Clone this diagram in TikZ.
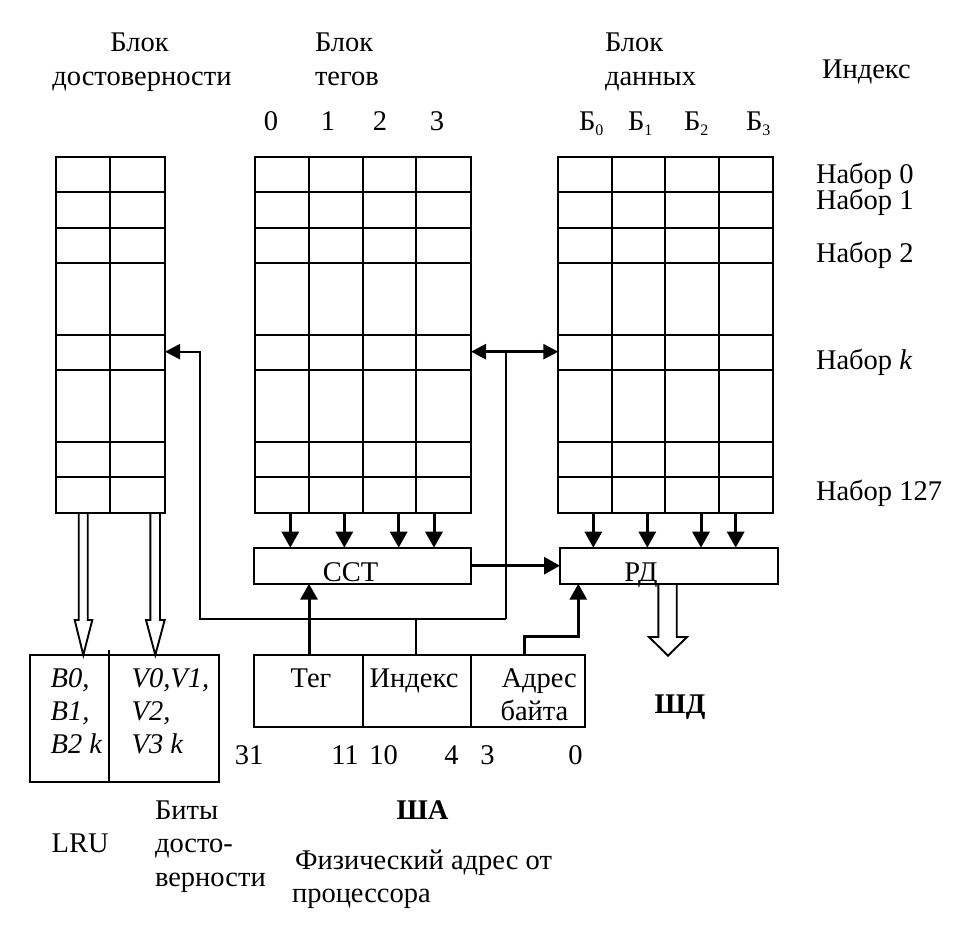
\documentclass[tikz,border=0pt]{standalone}
\usepackage{fontspec}
\setmainfont{Liberation Serif}
\usetikzlibrary{arrows.meta}
\begin{document}
\begin{tikzpicture}[x=1pt,y=-1pt,line width=2.2pt,
  every node/.style={inner sep=0pt, outer sep=0pt},
  font=\fontsize{28.5}{33}\selectfont,
  box/.style={draw, line width=2.2pt},
  arr/.style={line width=3pt, -{Triangle[length=16pt,width=17pt]}},
  arrthin/.style={line width=2.2pt, -{Triangle[length=15pt,width=15pt]}},
  arrboth/.style={line width=2.6pt, {Triangle[length=15pt,width=15pt]}-{Triangle[length=15pt,width=15pt]}},
  hollow/.style={line width=1.9pt, line join=miter},
  lbl/.style={anchor=base west},
  clbl/.style={anchor=base}]
\useasboundingbox (0,0) rectangle (969,928);

% ---------- blocks ----------
\node[box, minimum width=109.3pt, minimum height=356pt] (V) at (110.35,334.7) {};
\node[box, minimum width=216pt, minimum height=356pt] (T) at (363,334.7) {};
\node[box, minimum width=214.4pt, minimum height=356pt] (D) at (665.5,334.7) {};

\foreach \yy in {191.7,227.7,263,334.7,369.7,441.7,477} {
  \draw (V.west |- 0,\yy) -- (V.east |- 0,\yy);
  \draw (T.west |- 0,\yy) -- (T.east |- 0,\yy);
  \draw (D.west |- 0,\yy) -- (D.east |- 0,\yy);
}
\draw (109.7,0 |- V.north) -- (109.7,0 |- V.south);
\foreach \xx in {308.7,362.7,416} \draw (\xx,0 |- T.north) -- (\xx,0 |- T.south);
\foreach \xx in {612,665.3,718.7} \draw (\xx,0 |- D.north) -- (\xx,0 |- D.south);

% ---------- registers ----------
\node[box, minimum width=217pt, minimum height=36pt] (cct) at (362.5,565.7) {};
\node[box, minimum width=217.7pt, minimum height=36pt] (rd) at (668.85,565.7) {};
\node[clbl] (cctt) at (350.5,581) {ССТ};
\node[clbl] (rdt) at (641,581) {РД};

\node[box, minimum width=108.7pt, minimum height=71.7pt] (tagf) at (308.35,690.85) {};
\node[box, minimum width=108.3pt, minimum height=71.7pt] (idxf) at (416.85,690.85) {};
\node[box, minimum width=114pt, minimum height=71.7pt] (bytef) at (528,690.85) {};

\node[box, minimum width=189.3pt, minimum height=126.7pt] (lru) at (124.35,718.35) {};
\draw (109,650) -- (109,0 |- lru.south);

% ---------- arrows tags/data to registers ----------
\foreach \xx in {290.3,344.3,398.7,434}
  \draw[arr] (\xx,0 |- T.south) -- (\xx,0 |- cct.north);
\foreach \xx in {593.3,647.3,701,735.7}
  \draw[arr] (\xx,0 |- D.south) -- (\xx,0 |- rd.north);
\draw[arr] (cct.east) -- (rd.west);
\draw[arr] (309,0 |- tagf.north) -- (309,0 |- cct.south);
\coordinate (b1) at (578.3,636);
\draw[arr] (524,0 |- bytef.north) |- (b1) -- (b1 |- rd.south);

% ---------- index bus ----------
\coordinate (bus) at (416,619.3);
\coordinate (busL) at (200,619.3);
\coordinate (busR) at (506,619.3);
\coordinate (kk) at (506,351.7);
\coordinate (kv) at (200,351.7);
\draw (bus |- idxf.north) -- (bus);
\draw[arrthin] (busR) -- (busL) -- (kv) -- (V.east |- kv);
\draw (busR) -- (kk);
\draw[arrboth] (T.east |- kk) -- (D.west |- kk);

% ---------- hollow arrows ----------
\draw[hollow] (78.7,0 |- V.south) -- (78.7,620) -- (74.7,620) -- (83.3,0 |- lru.north) -- (92.3,620) -- (87.7,620) -- (87.7,0 |- V.south);
\draw[hollow] (150.3,0 |- V.south) -- (150.3,620) -- (146,620) -- (155.3,0 |- lru.north) -- (164.7,620) -- (160,620) -- (160,0 |- V.south);
\draw[hollow] (658.3,0 |- rd.south) -- (658.3,637) -- (649,637) -- (668,655.7) -- (687,637) -- (676.7,637) -- (676.7,0 |- rd.south);

% ---------- top labels ----------
\node[clbl] at (139.5,52) {Блок};
\node[clbl] at (142,86) {достоверности};
\node[lbl] at (315,52) {Блок};
\node[lbl] at (315,86) {тегов};
\node[lbl] at (605,52) {Блок};
\node[lbl] at (605,86) {данных};
\node[lbl] at (822,79) {Индекс};
\node[clbl] at (271,131) {0};
\node[clbl] at (328,131) {1};
\node[clbl] at (380,131) {2};
\node[clbl] at (437,131) {3};
\foreach \xx/\ii in {579/0,628/1,684/2,746/3}
  \node[lbl] at (\xx,131) {Б\raisebox{-0.35ex}{\fontsize{16}{16}\selectfont\ii}};

% ---------- set labels ----------
\node[lbl] at (816,183.5) {Набор 0};
\node[lbl] at (816,210) {Набор 1};
\node[lbl] at (816,262.5) {Набор 2};
\node[lbl] at (816,369.5) {Набор \textit{k}};
\node[lbl] at (816,500.5) {Набор 127};

% ---------- address fields ----------
\node[clbl] at (311,687) {Тег};
\node[clbl] at (414,687) {Индекс};
\node[lbl] at (501.5,687) {Адрес};
\node[lbl] at (500.5,720) {байта};
\node[clbl] at (680,713.5) {\bfseries ШД};
\node[clbl] at (249,764) {31};
\node[clbl] at (345,764) {11};
\node[clbl] at (383.5,764) {10};
\node[clbl] at (451.5,764) {4};
\node[clbl] at (487.5,764) {3};
\node[clbl] at (575.5,764) {0};

% ---------- LRU / valid bits ----------
\node[lbl] at (50.7,687) {\itshape B0,};
\node[lbl] at (50.7,720) {\itshape B1,};
\node[lbl] at (50.7,753) {\itshape B2 k};
\node[lbl] at (131.7,687) {\itshape V0,V1,};
\node[lbl] at (131.7,720) {\itshape V2,};
\node[lbl] at (131.7,753) {\itshape V3 k};

% ---------- bottom labels ----------
\node[lbl] at (51.7,852) {LRU};
\node[lbl] at (155,819) {Биты};
\node[lbl] at (155,852) {досто-};
\node[lbl] at (155,886) {верности};
\node[lbl] at (396.7,819) {\bfseries ША};
\node[lbl] at (295,869) {Физический адрес от};
\node[lbl] at (292,902) {процессора};
\end{tikzpicture}
\end{document}
